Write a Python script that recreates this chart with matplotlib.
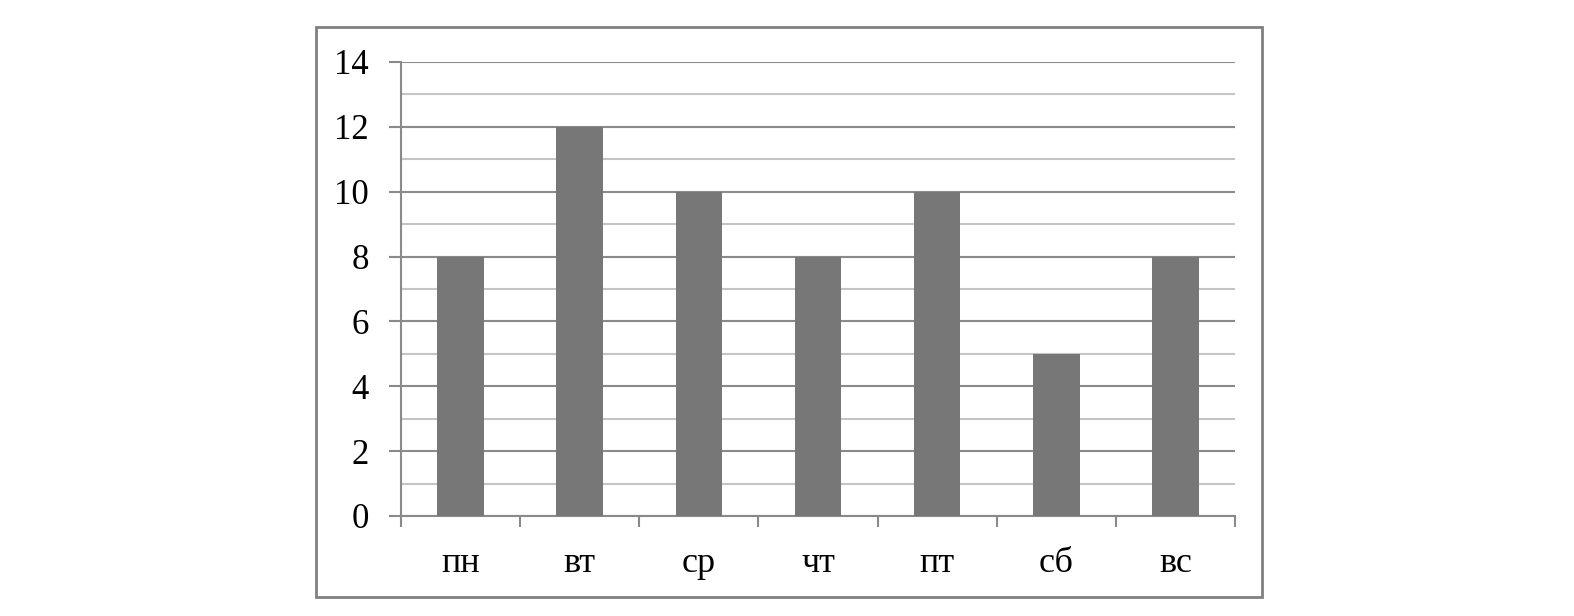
import matplotlib.pyplot as plt
from matplotlib.patches import Rectangle
from matplotlib.ticker import MultipleLocator

# Data
days = ['пн', 'вт', 'ср', 'чт', 'пт', 'сб', 'вс']
values = [8, 12, 10, 8, 10, 5, 8]

plt.rcParams['font.family'] = ['Liberation Serif', 'DejaVu Serif']

fig = plt.figure(figsize=(15.74, 6.16), dpi=100)

# outer chart frame
fig.patches.append(Rectangle((316/1574, 1 - 597/616), (1262-316)/1574, (597-27)/616,
                             transform=fig.transFigure, fill=False,
                             edgecolor='#808080', linewidth=2))

ax = fig.add_axes([401/1574, 1 - 516/616, (1235-401)/1574, (516-62)/616])

x = range(len(days))
ax.bar(x, values, width=0.39, color='#777777', zorder=3)

ax.set_xlim(-0.5, len(days) - 0.5)
ax.set_ylim(0, 14)

# gridlines
ax.yaxis.set_major_locator(MultipleLocator(2))
ax.yaxis.set_minor_locator(MultipleLocator(1))
ax.grid(axis='y', which='major', color='#8a8a8a', linewidth=1.5, zorder=1)
ax.grid(axis='y', which='minor', color='#c4c4c4', linewidth=1.5, zorder=1)

ax.set_xticks(list(x))
ax.set_xticklabels(days)
ax.set_xticks([i - 0.5 for i in range(len(days) + 1)], minor=True)
ax.tick_params(axis='x', which='major', length=0, pad=22, labelsize=26)
ax.tick_params(axis='x', which='minor', length=8, width=1.5, color='#8a8a8a')
ax.tick_params(axis='y', which='major', length=9, width=1.5, color='#8a8a8a',
               pad=14, labelsize=25)
ax.tick_params(axis='y', which='minor', length=0)

for s in ['top', 'right']:
    ax.spines[s].set_visible(False)
for s in ['left', 'bottom']:
    ax.spines[s].set_color('#8a8a8a')
    ax.spines[s].set_linewidth(1.5)

fig.savefig('out.png', dpi=100)
